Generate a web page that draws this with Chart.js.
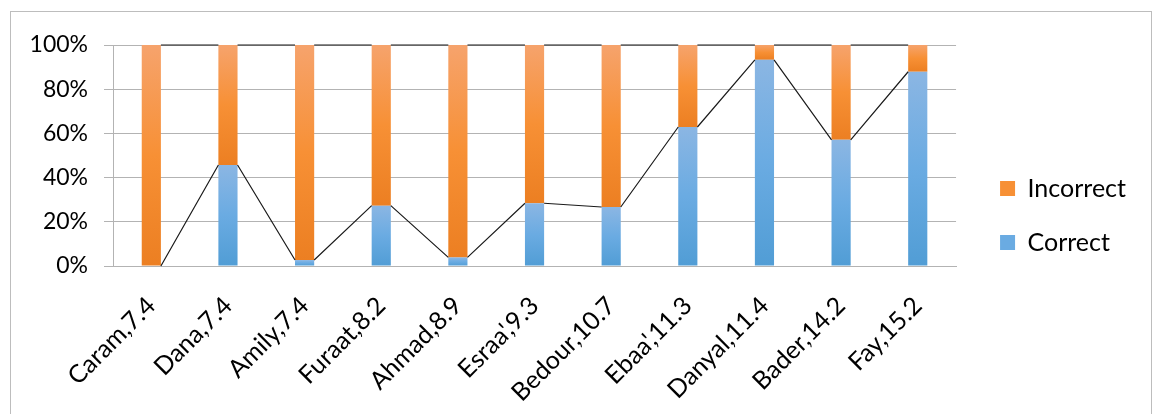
<!DOCTYPE html>
<html>
<head>
<meta charset="utf-8">
<script src="https://cdn.jsdelivr.net/npm/chart.js@4.4.1/dist/chart.umd.min.js"></script>
<style>
  html, body { margin: 0; padding: 0; background: #fff; }
  #wrap { position: relative; width: 1156px; height: 414px; }
  #frame { position: absolute; left: 10px; top: 11px; width: 1142px; height: 410px; border: 1px solid #bdbdbd; box-sizing: border-box; pointer-events: none; }
  canvas { position: absolute; left: 0; top: 0; }
</style>
</head>
<body>
<div id="wrap">
  <canvas id="bar-chart" width="1156" height="414"></canvas>
  <div id="frame"></div>
</div>
<script>
// students and their value
const categories = ['Caram,7.4', 'Dana,7.4', 'Amily,7.4', 'Furaat,8.2', 'Ahmad,8.9', "Esraa',9.3",
    'Bedour,10.7', "Ebaa',11.3", 'Danyal,11.4', 'Bader,14.2', 'Fay,15.2'];

// percent of answers
const correct = [0, 45.7, 2.7, 27.3, 3.9, 28.4, 26.7, 62.9, 93.3, 57.1, 87.9];
const incorrect = [100, 54.3, 97.3, 72.7, 96.1, 71.6, 73.3, 37.1, 6.7, 42.9, 12.1];

const yTicks = [0, 20, 40, 60, 80, 100];

const FONT = 'Lato';

// vertical gradient for one stacked segment
function segmentGradient(ctx, stops, isTop) {
    const chart = ctx.chart;
    const y = chart.scales.y;
    if (!chart.chartArea || !y || ctx.type !== 'data') return stops[1];
    const i = ctx.dataIndex;
    const lo = isTop ? correct[i] : 0;
    const hi = isTop ? correct[i] + incorrect[i] : correct[i];
    const top = y.getPixelForValue(hi);
    const bottom = y.getPixelForValue(lo);
    if (bottom - top < 1) return stops[1];
    const g = chart.ctx.createLinearGradient(0, top, 0, bottom);
    g.addColorStop(0, stops[0]);
    g.addColorStop(0.5, stops[1]);
    g.addColorStop(1, stops[2]);
    return g;
}

const blue = ['#8bb6e3', '#6aabe2', '#519dd5'];
const orange = ['#f6a36c', '#f79035', '#ec7f22'];

// excel style series lines between stacked bars
const seriesLines = {
    id: 'seriesLines',
    afterDatasetsDraw(chart) {
        const ctx = chart.ctx;
        ctx.save();
        ctx.strokeStyle = '#1a1a1a';
        ctx.lineWidth = 1.2;
        chart.data.datasets.forEach((ds, d) => {
            const bars = chart.getDatasetMeta(d).data;
            ctx.beginPath();
            for (let i = 0; i < bars.length - 1; i++) {
                const a = bars[i], b = bars[i + 1];
                ctx.moveTo(a.x + a.width / 2, a.y);
                ctx.lineTo(b.x - b.width / 2, b.y);
            }
            ctx.stroke();
        });
        ctx.restore();
    }
};

function renderChart() {
    const ctx = document.getElementById('bar-chart').getContext('2d');
    new Chart(ctx, {
        type: 'bar',
        data: {
            labels: categories,
            datasets: [{
                label: 'Correct',
                data: correct,
                backgroundColor: (c) => segmentGradient(c, blue, false),
                borderWidth: 0
            }, {
                label: 'Incorrect',
                data: incorrect,
                backgroundColor: (c) => segmentGradient(c, orange, true),
                borderWidth: 0
            }]
        },
        options: {
            responsive: false,
            animation: false,
            events: [],
            layout: { padding: { left: 29, top: 45, right: 20, bottom: 0 } },
            datasets: {
                bar: { categoryPercentage: 1, barPercentage: 0.25 }
            },
            scales: {
                x: {
                    stacked: true,
                    grid: { display: false },
                    border: { color: '#b3b3b3', width: 1 },
                    afterFit: (s) => { s.height = 148; },
                    ticks: {
                        color: '#000',
                        font: { family: FONT, size: 25 },
                        minRotation: 45,
                        maxRotation: 45,
                        labelOffset: 0,
                        padding: 17
                    }
                },
                y: {
                    stacked: true,
                    min: 0,
                    max: 100,
                    afterBuildTicks: (axis) => { axis.ticks = yTicks.map(v => ({ value: v })); },
                    afterFit: (s) => { s.width = 84; },
                    grid: { color: '#b3b3b3', tickLength: 9, lineWidth: 1 },
                    border: { color: '#b3b3b3', width: 1 },
                    ticks: {
                        color: '#000',
                        font: { family: FONT, size: 23 },
                        padding: 16,
                        callback: (v) => v + '%'
                    }
                },
                // empty spacer between plot and legend
                gap: {
                    type: 'linear',
                    position: 'right',
                    display: true,
                    grid: { display: false, drawTicks: false },
                    border: { display: false },
                    ticks: { display: false },
                    afterFit: (s) => { s.width = 15; }
                }
            },
            plugins: {
                tooltip: { enabled: false },
                legend: {
                    position: 'right',
                    align: 'start',
                    reverse: true,
                    // blank title only pushes the items down
                    title: { display: true, text: '', font: { size: 10 }, padding: { top: 0, bottom: 90 } },
                    labels: {
                        color: '#000',
                        font: { family: FONT, size: 25 },
                        boxWidth: 15,
                        boxHeight: 15,
                        padding: 29,
                        generateLabels: (chart) => chart.data.datasets.map((ds, i) => ({
                            text: ds.label,
                            fillStyle: i === 0 ? '#6aabe2' : '#f79035',
                            fontColor: '#000',
                            strokeStyle: 'rgba(0,0,0,0)',
                            lineWidth: 0,
                            datasetIndex: i,
                            hidden: false
                        }))
                    }
                }
            }
        },
        plugins: [seriesLines]
    });
}

renderChart();
</script>
</body>
</html>
